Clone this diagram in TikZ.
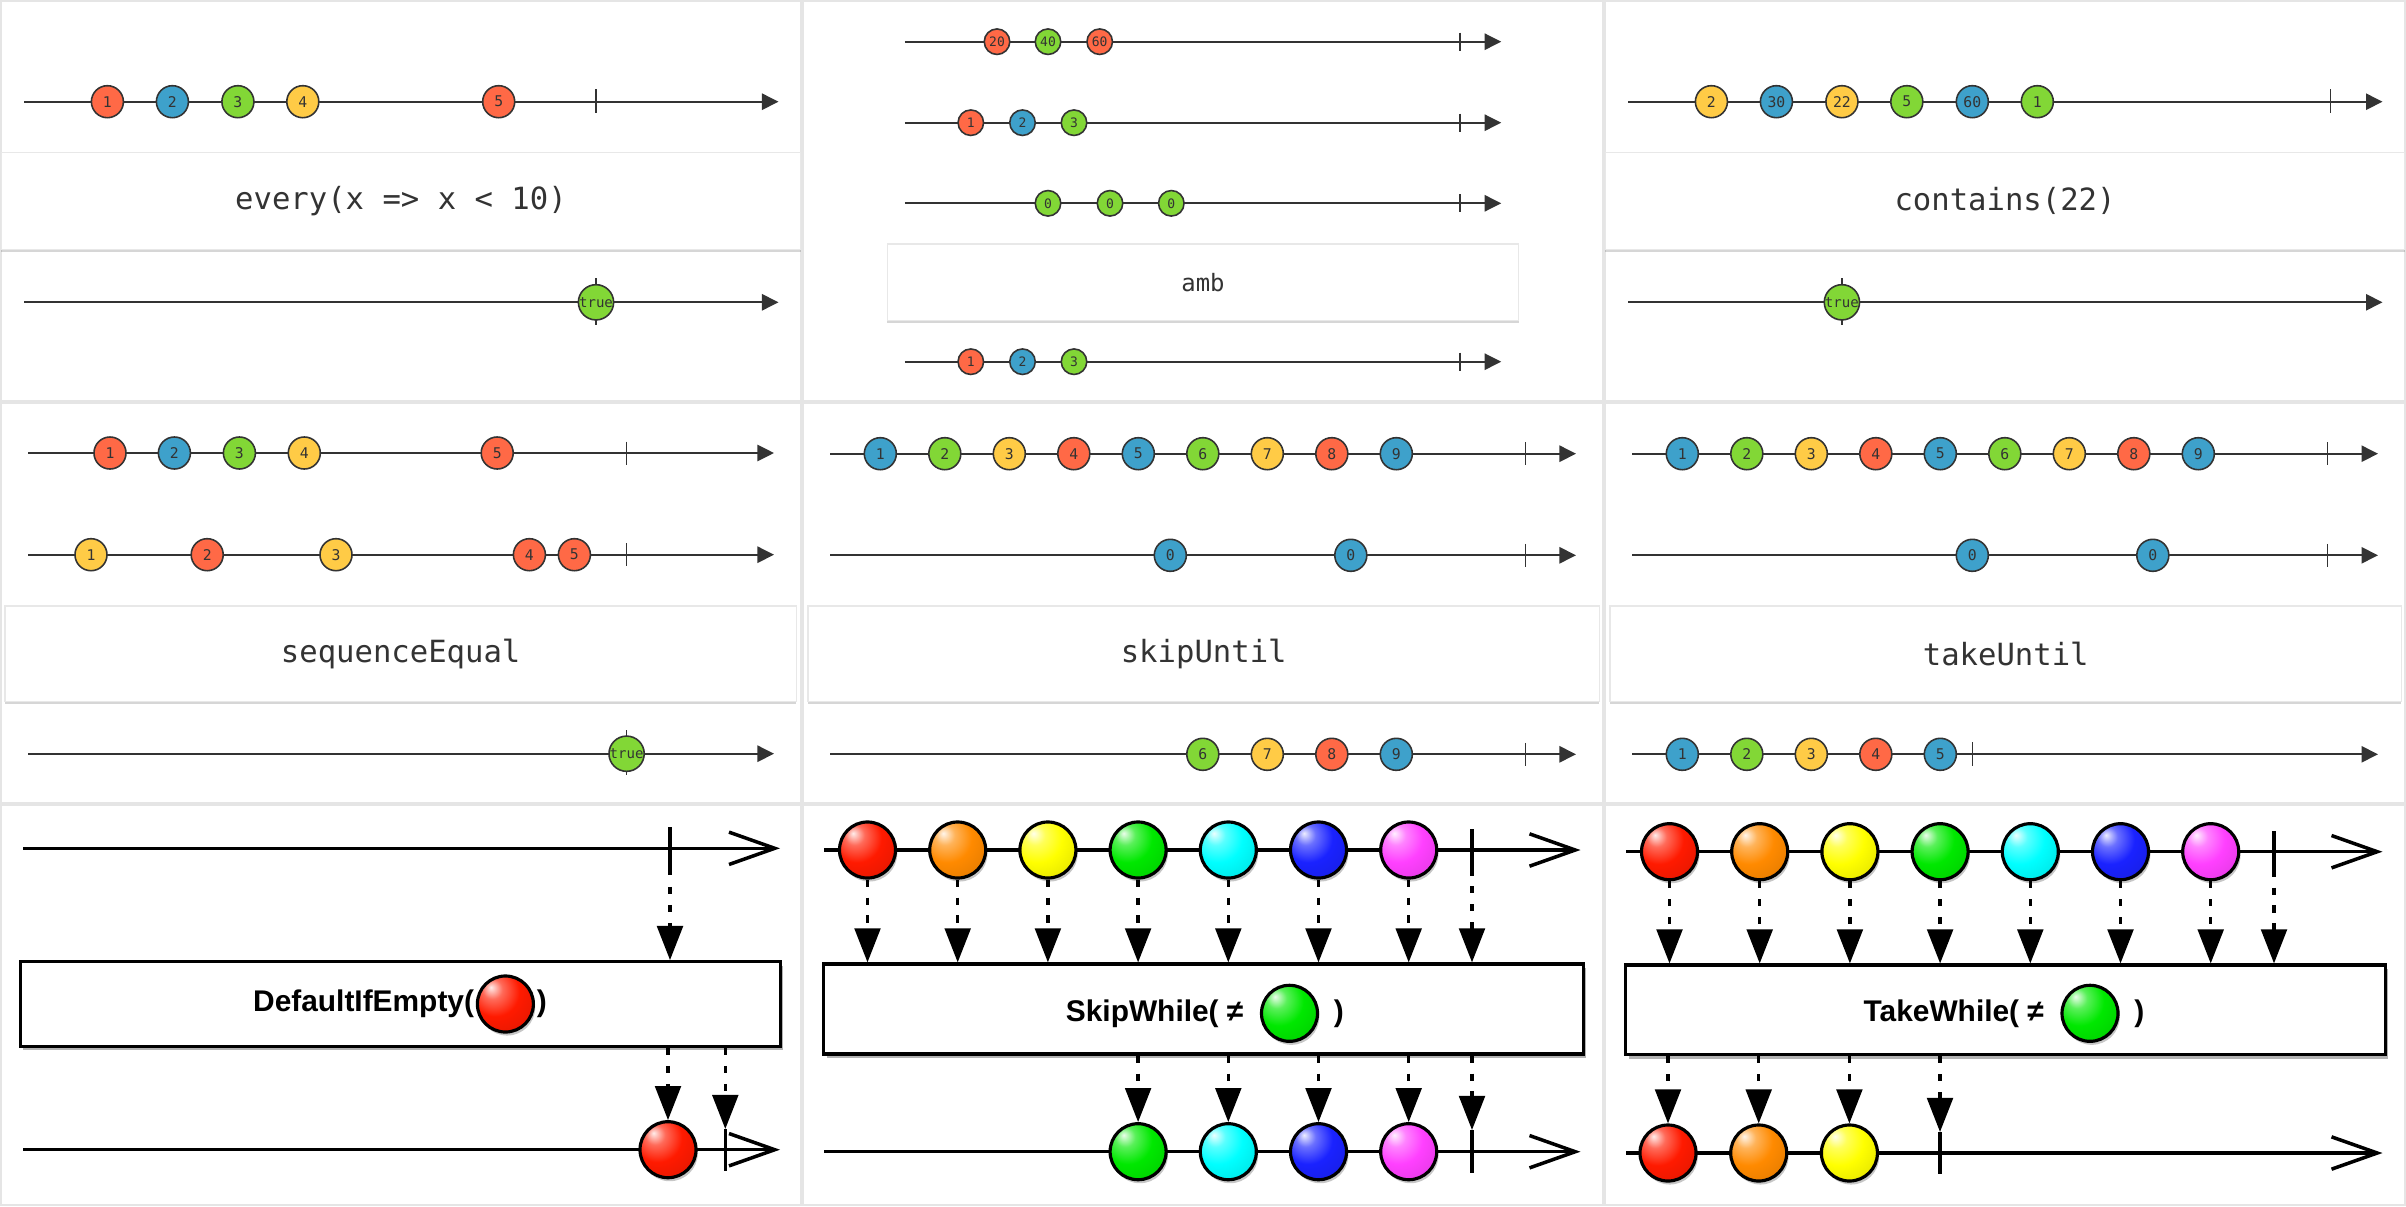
\documentclass[tikz,border=0pt]{standalone}
\usepackage{fontspec}
\setmainfont{Liberation Sans}
\newfontfamily\codefont{DejaVu Sans Mono}
\usetikzlibrary{arrows.meta,shadows,positioning}
\definecolor{rxred}{HTML}{FF6946}
\definecolor{rxblue}{HTML}{3EA1CB}
\definecolor{rxgreen}{HTML}{82D736}
\definecolor{rxyellow}{HTML}{FFCB46}
\definecolor{rxline}{HTML}{333333}
\definecolor{gred}{HTML}{FF1A00}
\definecolor{gorange}{HTML}{FF8A00}
\definecolor{gyellow}{HTML}{FFFF00}
\definecolor{ggreen}{HTML}{00E800}
\definecolor{gcyan}{HTML}{00FFFF}
\definecolor{gblue}{HTML}{1A22FF}
\definecolor{gmagenta}{HTML}{FF40FF}
\makeatletter
\pgfdeclareradialshading[tikz@ball]{glossball}{\pgfqpoint{-13bp}{15bp}}{%
  color(0bp)=(tikz@ball!8!white); color(9bp)=(tikz@ball!65!white);
  color(22bp)=(tikz@ball); color(42bp)=(tikz@ball!88!black);
  color(66bp)=(tikz@ball!55!black); color(80bp)=(tikz@ball!55!black)}
\makeatother
\tikzset{
  cell/.style={draw=black!10,line width=0.5pt},
  timeline/.style={draw=rxline,line width=0.6pt,-{Triangle[length=4.7pt,width=4.6pt]}},
  endtick/.style={draw=rxline,line width=0.45pt},
  marble/.style={circle,draw=rxline,line width=0.45pt,fill=#1,minimum size=0.32cm,inner sep=0pt,
    text=rxline,font=\codefont\fontsize{4.2}{5}\selectfont},
  smallmarble/.style={marble=#1,minimum size=0.255cm,font=\codefont\fontsize{3.7}{4}\selectfont},
  truemarble/.style={marble=rxgreen,minimum size=0.33cm,font=\codefont\fontsize{4}{4}\selectfont},
  optop/.style={rectangle,draw=black!9,fill=white,line width=0.4pt,text=rxline,
    font=\codefont\fontsize{8.7}{10}\selectfont,
    drop shadow={shadow xshift=0pt,shadow yshift=-0.7pt,opacity=0.16,fill=black}},
  stream/.style={draw=black,line width=1pt,-{Straight Barb[length=13pt,width=9.2pt,line width=1pt]}},
  bigtick/.style={draw=black,line width=1pt},
  glossy/.style={circle,draw=black,line width=0.9pt,minimum size=0.56cm,inner sep=0pt,
    ball color=#1,shading=glossball,
    drop shadow={shadow xshift=0.5pt,shadow yshift=-1pt,opacity=0.22,fill=black}},
  flow/.style={draw=black,line width=0.95pt,dash pattern=on 2pt off 3.1pt,-{Triangle[length=9.7pt,width=7.3pt]}},
  opbox/.style={rectangle,draw=black,line width=0.9pt,fill=white,
    drop shadow={shadow xshift=0.9pt,shadow yshift=-1.1pt,opacity=0.3,fill=black}},
  optext/.style={inner sep=0pt,font=\bfseries\fontsize{8.5}{10}\selectfont}
}
\begin{document}
\begin{tikzpicture}[x=0.01cm,y=-0.01cm]
\useasboundingbox[fill=white] (0,0) rectangle (2406,1206);
\foreach \cx in {0,802,1604}{\foreach \cy in {0,402,804}{\draw[cell] (\cx+1,\cy+1) rectangle ++(800,400);}}

\draw[timeline] (24,101.7)--(778.5,101.7);
\draw[endtick] (596,89)--(596,113);
\foreach \x/\c/\t [count=\i] in {107.4/rxred/1,172.4/rxblue/2,237.9/rxgreen/3,302.8/rxyellow/4,498.7/rxred/5}
  {\node[marble=\c] (ev\i) at (\x,101.7) {\t};}
\node[optop,minimum width=7.99cm,minimum height=0.966cm] (evop) at (401,201) {every(x => x < 10)};
\draw[timeline] (24,302.3)--(778.5,302.3);
\draw[endtick] (596,278)--(596,325);
\node[truemarble] (evres) at (596,302.3) {true};

\foreach \y in {41.7,122.7,203.3,361.7}{
  \draw[timeline] (904.8,\y)--(1501.2,\y);
  \draw[endtick] (1459.8,\y-9)--(1459.8,\y+9);}
\foreach \x/\c/\t [count=\i] in {997/rxred/20,1048/rxgreen/40,1099.7/rxred/60}
  {\node[smallmarble=\c] (amA\i) at (\x,41.7) {\t};}
\foreach \x/\c/\t [count=\i] in {970.8/rxred/1,1022.5/rxblue/2,1074/rxgreen/3}
  {\node[smallmarble=\c] (amB\i) at (\x,122.7) {\t};}
\foreach \x [count=\i] in {1048,1110,1171.3}
  {\node[smallmarble=rxgreen] (amC\i) at (\x,203.3) {0};}
\node[optop,minimum width=6.31cm,minimum height=0.767cm,font=\codefont\fontsize{6.8}{8}\selectfont] (amop) at (1203,282.4) {amb};
\foreach \x/\c/\t [count=\i] in {970.8/rxred/1,1022.5/rxblue/2,1074/rxgreen/3}
  {\node[smallmarble=\c] (amo\i) at (\x,361.7) {\t};}

\draw[timeline] (1628,101.7)--(2382.5,101.7);
\draw[endtick] (2330.3,89)--(2330.3,113);
\foreach \x/\c/\t [count=\i] in {1711.4/rxyellow/2,1776.4/rxblue/30,1841.9/rxyellow/22,1906.8/rxgreen/5,1972.3/rxblue/60,2037.3/rxgreen/1}
  {\node[marble=\c] (co\i) at (\x,101.7) {\t};}
\node[optop,minimum width=7.99cm,minimum height=0.966cm] (coop) at (2005,201) {contains(22)};
\draw[timeline] (1628,302.3)--(2382.5,302.3);
\draw[endtick] (1841.9,278)--(1841.9,325);
\node[truemarble] (cores) at (1841.9,302.3) {true};

\foreach \y in {453,554.7}{
  \draw[timeline] (28,\y)--(774,\y);
  \draw[endtick] (626.6,\y-11.5)--(626.6,\y+11.5);}
\foreach \x/\c/\t [count=\i] in {110/rxred/1,174.4/rxblue/2,239.4/rxgreen/3,304.3/rxyellow/4,497.2/rxred/5}
  {\node[marble=\c] (sqA\i) at (\x,453) {\t};}
\foreach \x/\c/\t [count=\i] in {91/rxyellow/1,207.2/rxred/2,336/rxyellow/3,529.4/rxred/4,574.4/rxred/5}
  {\node[marble=\c] (sqB\i) at (\x,554.7) {\t};}
\node[optop,minimum width=7.91cm,minimum height=0.953cm] (sqop) at (400.7,653.7) {sequenceEqual};
\draw[timeline] (28,753.7)--(774,753.7);
\draw[endtick] (626.6,730.3)--(626.6,775.3);
\node[truemarble] (sqres) at (626.6,753.7) {true};

\foreach \y in {453.7,555.3,754.3}{
  \draw[timeline] (830,\y)--(1576,\y);
  \draw[endtick] (1525.3,\y-11.5)--(1525.3,\y+11.5);}
\foreach \c [count=\i] in {rxblue,rxgreen,rxyellow,rxred,rxblue,rxgreen,rxyellow,rxred,rxblue}
  {\node[marble=\c] (su\i) at ({880.3+64.5*(\i-1)},453.7) {\i};}
\foreach \x [count=\i] in {1170.3,1350.8}
  {\node[marble=rxblue] (sun\i) at (\x,555.3) {0};}
\node[optop,minimum width=7.91cm,minimum height=0.953cm] (suop) at (1203.7,653.7) {skipUntil};
\foreach \c [count=\i from 6] in {rxgreen,rxyellow,rxred,rxblue}
  {\node[marble=\c] (suo\i) at ({880.3+64.5*(\i-1)},754.3) {\i};}

\foreach \y in {453.7,555.3}{
  \draw[timeline] (1632,\y)--(2378,\y);
  \draw[endtick] (2327.3,\y-11.5)--(2327.3,\y+11.5);}
\foreach \c [count=\i] in {rxblue,rxgreen,rxyellow,rxred,rxblue,rxgreen,rxyellow,rxred,rxblue}
  {\node[marble=\c] (tu\i) at ({1682.3+64.5*(\i-1)},453.7) {\i};}
\foreach \x [count=\i] in {1972.3,2152.8}
  {\node[marble=rxblue] (tun\i) at (\x,555.3) {0};}
\node[optop,minimum width=7.91cm,minimum height=0.953cm] (tuop) at (2005.7,653.7) {takeUntil};
\draw[timeline] (1632,754.3)--(2378,754.3);
\draw[endtick] (1972.3,742)--(1972.3,766);
\foreach \c [count=\i] in {rxblue,rxgreen,rxyellow,rxred,rxblue}
  {\node[marble=\c] (tuo\i) at ({1682.3+64.5*(\i-1)},754.3) {\i};}

\draw[stream] (23,848.3)--(780,848.3);
\draw[bigtick] (670,827.3)--(670,875) coordinate (dfend);
\node[opbox,minimum width=7.595cm,minimum height=0.846cm] (dfop) at (400.3,1004) {};
\node[glossy=gred] (dfarg) at (505.4,1004) {};
\node[optext,left=0.3pt of dfarg] (dflabel) {DefaultIfEmpty(};
\node[optext,right=0.3pt of dfarg] (dfclose) {)};
\draw[flow] ([yshift=-3.4pt]dfend)--(dfend |- dfop.north);
\draw[stream] (23,1149.7)--(780,1149.7);
\draw[bigtick] (725.3,1129) coordinate (dfoend)--(725.3,1170.7);
\node[glossy=gred] (dfo1) at (668,1149.7) {};
\draw[flow] (dfo1 |- dfop.south)--(dfo1.north);
\draw[flow] (dfoend |- dfop.south)--(dfoend);

\draw[stream] (824,850)--(1580.5,850);
\draw[bigtick] (1472,829)--(1472,875.7) coordinate (swend);
\foreach \c [count=\i] in {gred,gorange,gyellow,ggreen,gcyan,gblue,gmagenta}
  {\node[glossy=\c] (sw\i) at ({867.5+90.2*(\i-1)},850) {};}
\node[opbox,minimum width=7.595cm,minimum height=0.9cm] (swop) at (1203.3,1009) {};
\node[glossy=ggreen] (swarg) at (1289.5,1013.3) {};
\node[optext,left=4.5pt of swarg] (swlabel) {SkipWhile( ≠};
\node[optext,right=4pt of swarg] (swclose) {)};
\foreach \i in {1,...,7}{\draw[flow] (sw\i.south)--(sw\i.south |- swop.north);}
\draw[flow] ([yshift=-3pt]swend)--(swend |- swop.north);
\draw[stream] (824,1151.7)--(1580.5,1151.7);
\draw[bigtick] (1472,1130) coordinate (swoend)--(1472,1173.3);
\foreach \c [count=\i from 4] in {ggreen,gcyan,gblue,gmagenta}
  {\node[glossy=\c] (swo\i) at ({867.5+90.2*(\i-1)},1151.7) {};}
\foreach \i in {4,...,7}{\draw[flow] (swo\i |- swop.south)--(swo\i.north);}
\draw[flow] (swoend |- swop.south)--(swoend);

\draw[stream] (1626,851.7)--(2382.5,851.7);
\draw[bigtick] (2274,831)--(2274,877) coordinate (twend);
\foreach \c [count=\i] in {gred,gorange,gyellow,ggreen,gcyan,gblue,gmagenta}
  {\node[glossy=\c] (tw\i) at ({1669.5+90.2*(\i-1)},851.7) {};}
\node[opbox,minimum width=7.595cm,minimum height=0.897cm] (twop) at (2005.3,1009.9) {};
\node[glossy=ggreen] (twarg) at (2090,1013.3) {};
\node[optext,left=4.5pt of twarg] (twlabel) {TakeWhile( ≠};
\node[optext,right=4pt of twarg] (twclose) {)};
\foreach \i in {1,...,7}{\draw[flow] (tw\i.south)--(tw\i.south |- twop.north);}
\draw[flow] ([yshift=-3pt]twend)--(twend |- twop.north);
\draw[stream] (1626,1153)--(2382.5,1153);
\draw[bigtick] (1940,1132) coordinate (twoend)--(1940,1174);
\foreach \c [count=\i] in {gred,gorange,gyellow}
  {\node[glossy=\c] (two\i) at ({1668+90.7*(\i-1)},1153) {};}
\foreach \i in {1,...,3}{\draw[flow] (two\i |- twop.south)--(two\i.north);}
\draw[flow] (twoend |- twop.south)--(twoend);
\end{tikzpicture}
\end{document}
